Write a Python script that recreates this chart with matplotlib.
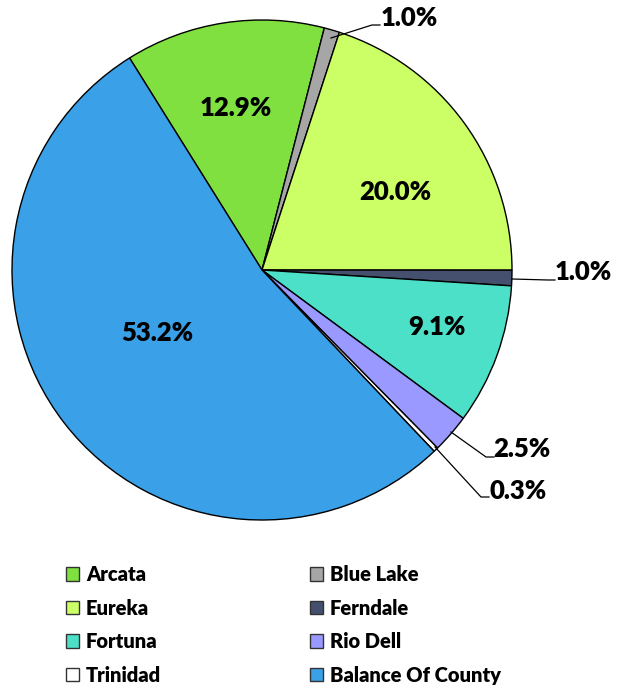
import matplotlib
matplotlib.use("Agg")
from matplotlib import pyplot as plt
from matplotlib.patches import Patch

plt.rcParams['font.family'] = ['Lato', 'DejaVu Sans']

cities = ["Arcata", "Blue Lake", "Eureka", "Ferndale", "Fortuna", "Rio Dell", "Trinidad", "Balance Of County"]
shares = [12.9, 1.0, 20.0, 1.0, 9.1, 2.5, 0.3, 53.2]
colors = ["#7fe040", "#a6a6a6", "#ccff66", "#44506e", "#4de0c8", "#9999ff", "#ffffff", "#3aa0e8"]

W, H = 630, 687
CX, CY, R = 262, 270, 250


def to_data(px, py):
    return (px - CX) / R, (CY - py) / R


fig = plt.figure(figsize=(W / 100, H / 100), dpi=100)
ax = fig.add_axes([(CX - R) / W, (H - CY - R) / H, 2 * R / W, 2 * R / H])
wedges, _ = ax.pie(shares, colors=colors, startangle=122.0, counterclock=False,
                   wedgeprops=dict(edgecolor="black", linewidth=1.0))
ax.set_xlim(-1, 1)
ax.set_ylim(-1, 1)
ax.set_aspect("equal")
ax.axis("off")

# labels inside the big slices
inside = {0: (236, 108), 2: (395, 192), 4: (437, 327), 7: (157, 333)}
for i, (px, py) in inside.items():
    x, y = to_data(px, py)
    ax.text(x, y, f"{shares[i]:.1f}%", ha="center", va="center",
            fontsize=18.5, fontweight="heavy")

# labels outside with leader lines: (start of line, elbow, end of line, text pos)
outside = {
    1: [(331, 38), (372, 25), (380, 25), (381, 18)],
    3: [(512, 279), (548, 280), (555, 280), (555, 272)],
    5: [(451, 432), (486, 457), (494, 457), (493, 449)],
    6: [(435, 447), (481, 497), (489, 497), (489, 491)],
}
for i, pts in outside.items():
    xs, ys = zip(*[to_data(px, py) for px, py in pts[:3]])
    ax.plot(xs, ys, color="black", linewidth=0.9, clip_on=False)
    tx, ty = to_data(*pts[3])
    ax.text(tx, ty, f"{shares[i]:.1f}%", ha="left", va="center",
            fontsize=18.5, fontweight="heavy", clip_on=False)

handles = [Patch(facecolor=c, edgecolor="#333333", linewidth=1.0) for c in colors]
order = [0, 2, 4, 6, 1, 3, 5, 7]
fig.legend([handles[i] for i in order], [cities[i] for i in order],
           ncol=2, loc="upper left", bbox_to_anchor=(48 / W, 1 - 547 / H),
           frameon=False, prop=dict(size=14.5, weight="heavy"),
           handlelength=0.66, handleheight=0.66, handletextpad=0.32,
           labelspacing=0.72, columnspacing=7.4)

fig.savefig("out.png", dpi=100)
